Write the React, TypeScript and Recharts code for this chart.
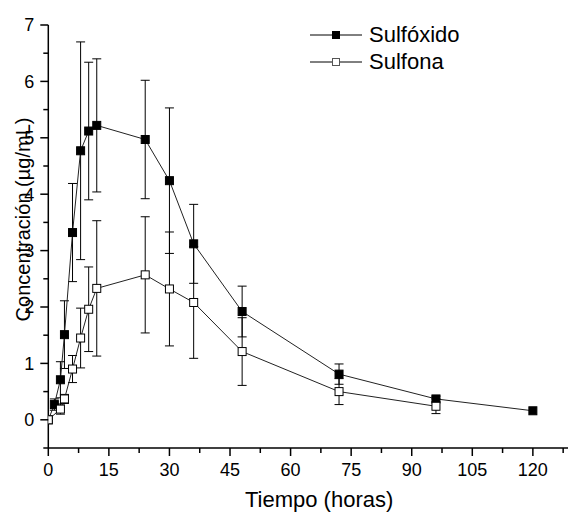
import React from 'react';
import { ScatterChart, Scatter, XAxis, YAxis, ErrorBar, Legend } from 'recharts';

// Sulfóxido (filled squares)
const sulfoxidoTime = [0, 1.5, 3, 4, 6, 8, 10, 12, 24, 30, 36, 48, 72, 96, 120];
const sulfoxidoConc = [0, 0.27, 0.71, 1.51, 3.32, 4.77, 5.12, 5.22, 4.97, 4.24, 3.12, 1.92, 0.81, 0.37, 0.16];
const sulfoxidoSD = [0, 0.1, 0.32, 0.6, 0.87, 1.93, 1.22, 1.18, 1.05, 1.29, 0.7, 0.45, 0.18, 0.05, 0];

// Sulfona (open squares)
const sulfonaTime = [0, 3, 4, 6, 8, 10, 12, 24, 30, 36, 48, 72, 96];
const sulfonaConc = [0, 0.19, 0.37, 0.9, 1.45, 1.96, 2.33, 2.57, 2.32, 2.08, 1.21, 0.5, 0.24];
const sulfonaSD = [0, 0.09, 0.08, 0.24, 0.53, 0.75, 1.2, 1.03, 1.01, 0.99, 0.6, 0.23, 0.13];

const seriesNames = ['Sulfóxido', 'Sulfona'];
const xTicks = [0, 7.5, 15, 22.5, 30, 37.5, 45, 52.5, 60, 67.5, 75, 82.5, 90, 97.5, 105, 112.5, 120, 127.5];
const yTicks = [-0.5, 0, 0.5, 1, 1.5, 2, 2.5, 3, 3.5, 4, 4.5, 5, 5.5, 6, 6.5, 7];
const xTitle = 'Tiempo (horas)';
const yTitle = 'Concentración (µg/mL)';

const FONT = 'Arial, "Liberation Sans", Helvetica, sans-serif';

const sulfoxidoData = sulfoxidoTime.map((t, i) => ({ x: t, y: sulfoxidoConc[i], err: sulfoxidoSD[i] }));
const sulfonaData = sulfonaTime.map((t, i) => ({ x: t, y: sulfonaConc[i], err: sulfonaSD[i] }));

const XTick = (props: any) => {
  const { x, y, payload } = props;
  const v = payload.value;
  const major = Math.abs(v % 15) < 1e-6;
  return (
    <g>
      <line x1={x} y1={y} x2={x} y2={y + (major ? 8 : 5)} stroke="#000" strokeWidth={1.5} />
      {major && (
        <text x={x} y={y + 28} textAnchor="middle" fontSize={18} fontFamily={FONT} fill="#000">
          {v}
        </text>
      )}
    </g>
  );
};

const YTick = (props: any) => {
  const { x, y, payload } = props;
  const v = payload.value;
  const major = Math.abs(v - Math.round(v)) < 1e-6;
  return (
    <g>
      <line x1={x} y1={y} x2={x - (major ? 8 : 5)} y2={y} stroke="#000" strokeWidth={1.5} />
      {major && (
        <text x={x - 14} y={y} dy="0.36em" textAnchor="end" fontSize={18} fontFamily={FONT} fill="#000">
          {v}
        </text>
      )}
    </g>
  );
};

const FilledSquare = (props: any) => {
  const { cx, cy } = props;
  return <rect x={cx - 4} y={cy - 4} width={8} height={8} fill="#000" stroke="#000" strokeWidth={1} />;
};
const OpenSquare = (props: any) => {
  const { cx, cy } = props;
  return <rect x={cx - 4} y={cy - 4} width={8} height={8} fill="#fff" stroke="#000" strokeWidth={1} />;
};

const renderLegend = () => (
  <div style={{ fontFamily: FONT, fontSize: 22, color: '#000', lineHeight: '26.6px' }}>
    {seriesNames.map((name, i) => (
      <div key={name} style={{ display: 'flex', alignItems: 'center', height: 26.6 }}>
        <svg width={52} height={12} style={{ display: 'block' }}>
          <line x1={0} y1={6} x2={52} y2={6} stroke="#000" strokeWidth={1} />
          <rect x={22.5} y={2.5} width={7} height={7} fill={i === 0 ? '#000' : '#fff'} stroke={i === 0 ? '#000' : '#555'} strokeWidth={1} />
        </svg>
        <span style={{ marginLeft: 7 }}>{name}</span>
      </div>
    ))}
  </div>
);

const XTitle = (props: any) => {
  const vb = props.viewBox;
  return (
    <text x={vb.x + vb.width / 2 + 11} y={vb.y + 59} textAnchor="middle" fontSize={22} fontFamily={FONT} fill="#000">
      {xTitle}
    </text>
  );
};

const YTitle = (props: any) => {
  const vb = props.viewBox;
  const cx = vb.x + 15;
  const cy = vb.y + vb.height / 2 - 17;
  return (
    <text
      x={cx}
      y={cy}
      dy="0.36em"
      textAnchor="middle"
      fontSize={20}
      fontFamily={FONT}
      fill="#000"
      transform={`rotate(-90, ${cx}, ${cy})`}
    >
      {yTitle}
    </text>
  );
};

export default function App() {
  return (
    <div style={{ position: 'absolute', left: 0, top: 0, width: 568, height: 513, overflow: 'hidden', background: '#fff' }}>
      <ScatterChart width={568} height={513} margin={{ top: 25, right: 0, bottom: 0, left: 8.3 }}>
        <XAxis
          type="number"
          dataKey="x"
          domain={[0, 128.7]}
          ticks={xTicks}
          interval={0}
          allowDataOverflow
          height={65}
          tickSize={0}
          tickMargin={0}
          tickLine={false}
          axisLine={{ stroke: '#000', strokeWidth: 1.5 }}
          tick={<XTick />}
          label={<XTitle />}
        />
        <YAxis
          type="number"
          dataKey="y"
          domain={[-0.5, 7]}
          ticks={yTicks}
          interval={0}
          allowDataOverflow
          width={40}
          tickSize={0}
          tickMargin={0}
          tickLine={false}
          axisLine={{ stroke: '#000', strokeWidth: 1.5 }}
          tick={<YTick />}
          label={<YTitle />}
        />
        <Legend
          layout="vertical"
          align="center"
          verticalAlign="middle"
          content={renderLegend}
          wrapperStyle={{ position: 'absolute', left: 310, top: 22, width: 200, height: 54 }}
        />
        <Scatter
          name={seriesNames[0]}
          data={sulfoxidoData}
          line={{ stroke: '#222', strokeWidth: 1 }}
          shape={<FilledSquare />}
          isAnimationActive={false}
        >
          <ErrorBar dataKey="err" direction="y" width={4.5} stroke="#000" strokeWidth={1} />
        </Scatter>
        <Scatter
          name={seriesNames[1]}
          data={sulfonaData}
          line={{ stroke: '#222', strokeWidth: 1 }}
          shape={<OpenSquare />}
          isAnimationActive={false}
        >
          <ErrorBar dataKey="err" direction="y" width={4.5} stroke="#000" strokeWidth={1} />
        </Scatter>
      </ScatterChart>
    </div>
  );
}
